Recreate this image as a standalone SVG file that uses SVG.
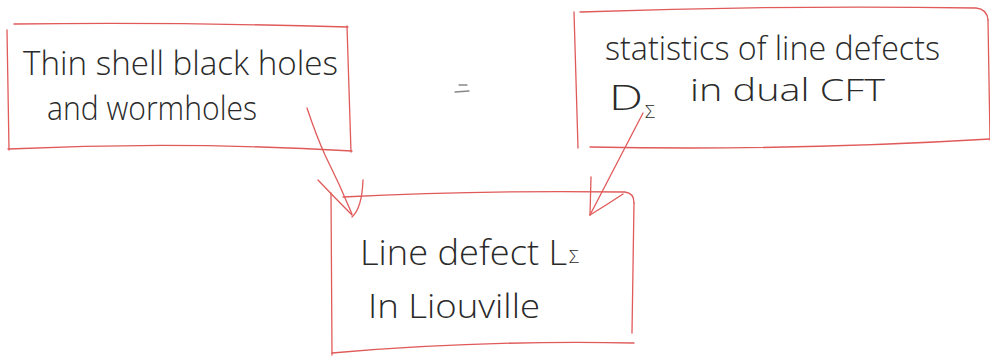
<svg xmlns="http://www.w3.org/2000/svg" width="990" height="356" viewBox="0 0 990 356">
<style>
.box{fill:none;stroke:#e05a5a;stroke-width:1.3;stroke-linecap:round;stroke-linejoin:round}
.conn{fill:none;stroke:#e05a5a;stroke-width:1.3;stroke-linecap:round;stroke-linejoin:round}
.t{font-family:"Open Sans","Liberation Sans",sans-serif;font-weight:300;fill:#2a2a2a;font-size:30px}
.s{font-family:"Open Sans","Liberation Sans",sans-serif;font-weight:300;fill:#2a2a2a;font-size:18px}
.eq{stroke:#888;stroke-width:1.3;stroke-linecap:round}
</style>
<rect width="990" height="356" fill="#ffffff"/>
<g id="node-thin-shell">
<path class="box" d="M14,24 Q180,22 348,27"/>
<path class="box" d="M7,30 L9,150"/>
<path class="box" d="M347,26 L351,152"/>
<path class="box" d="M8,149 Q180,141 352,151"/>
<text class="t" transform="translate(23,75) scale(1,1.1)" x="0" y="0" textLength="315" lengthAdjust="spacingAndGlyphs">Thin shell black holes</text>
<text class="t" transform="translate(47,120) scale(1,1.1)" x="0" y="0" font-size="29" textLength="210" lengthAdjust="spacingAndGlyphs">and wormholes</text>
</g>
<g id="node-statistics">
<path class="box" d="M574,12 L578,148"/>
<path class="box" d="M580,12 Q780,5 976,8 Q987,9 988,20"/>
<path class="box" d="M988,20 L990,140"/>
<path class="box" d="M590,147 Q790,151 990,139"/>
<text class="t" transform="translate(605,60) scale(1,1.1)" x="0" y="0" font-size="29" textLength="335" lengthAdjust="spacingAndGlyphs">statistics of line defects</text>
<text class="t" transform="translate(609,110) scale(1,1.15)" x="0" y="0" textLength="34" lengthAdjust="spacingAndGlyphs">D</text>
<text class="s" x="645" y="118">Σ</text>
<text class="t" transform="translate(690,101) scale(1,1.05)" x="0" y="0" font-size="28" textLength="195" lengthAdjust="spacingAndGlyphs">in dual  CFT</text>
</g>
<g id="node-line-defect">
<path class="box" d="M331,193 L332,355"/>
<path class="box" d="M343,197 Q480,190 625,192 Q634,193 634,203"/>
<path class="box" d="M634,203 L632,333"/>
<path class="box" d="M332,353 Q480,340 634,343"/>
<text class="t" transform="translate(360,265) scale(1,1.15)" x="0" y="0" textLength="207" lengthAdjust="spacingAndGlyphs">Line defect L</text>
<text class="s" x="569" y="263">Σ</text>
<text class="t" transform="translate(368,318) scale(1,1.1)" x="0" y="0" font-size="29" textLength="172" lengthAdjust="spacingAndGlyphs">In Liouville</text>
</g>
<g id="equals">
<line class="eq" x1="459" y1="85" x2="467" y2="85"/>
<line class="eq" x1="455" y1="92" x2="469" y2="91"/>
</g>
<g id="connectors">
<path class="conn" d="M307,108 Q316,135 325,155 Q340,185 352,214"/>
<path class="conn" d="M318,180 Q335,198 352,215"/>
<path class="conn" d="M363,180 Q362,208 352,217"/>
<path class="conn" d="M643,113 L590,215"/>
<path class="conn" d="M591,177 L590,215"/>
<path class="conn" d="M590,215 Q608,204 623,194"/>
</g>
</svg>
